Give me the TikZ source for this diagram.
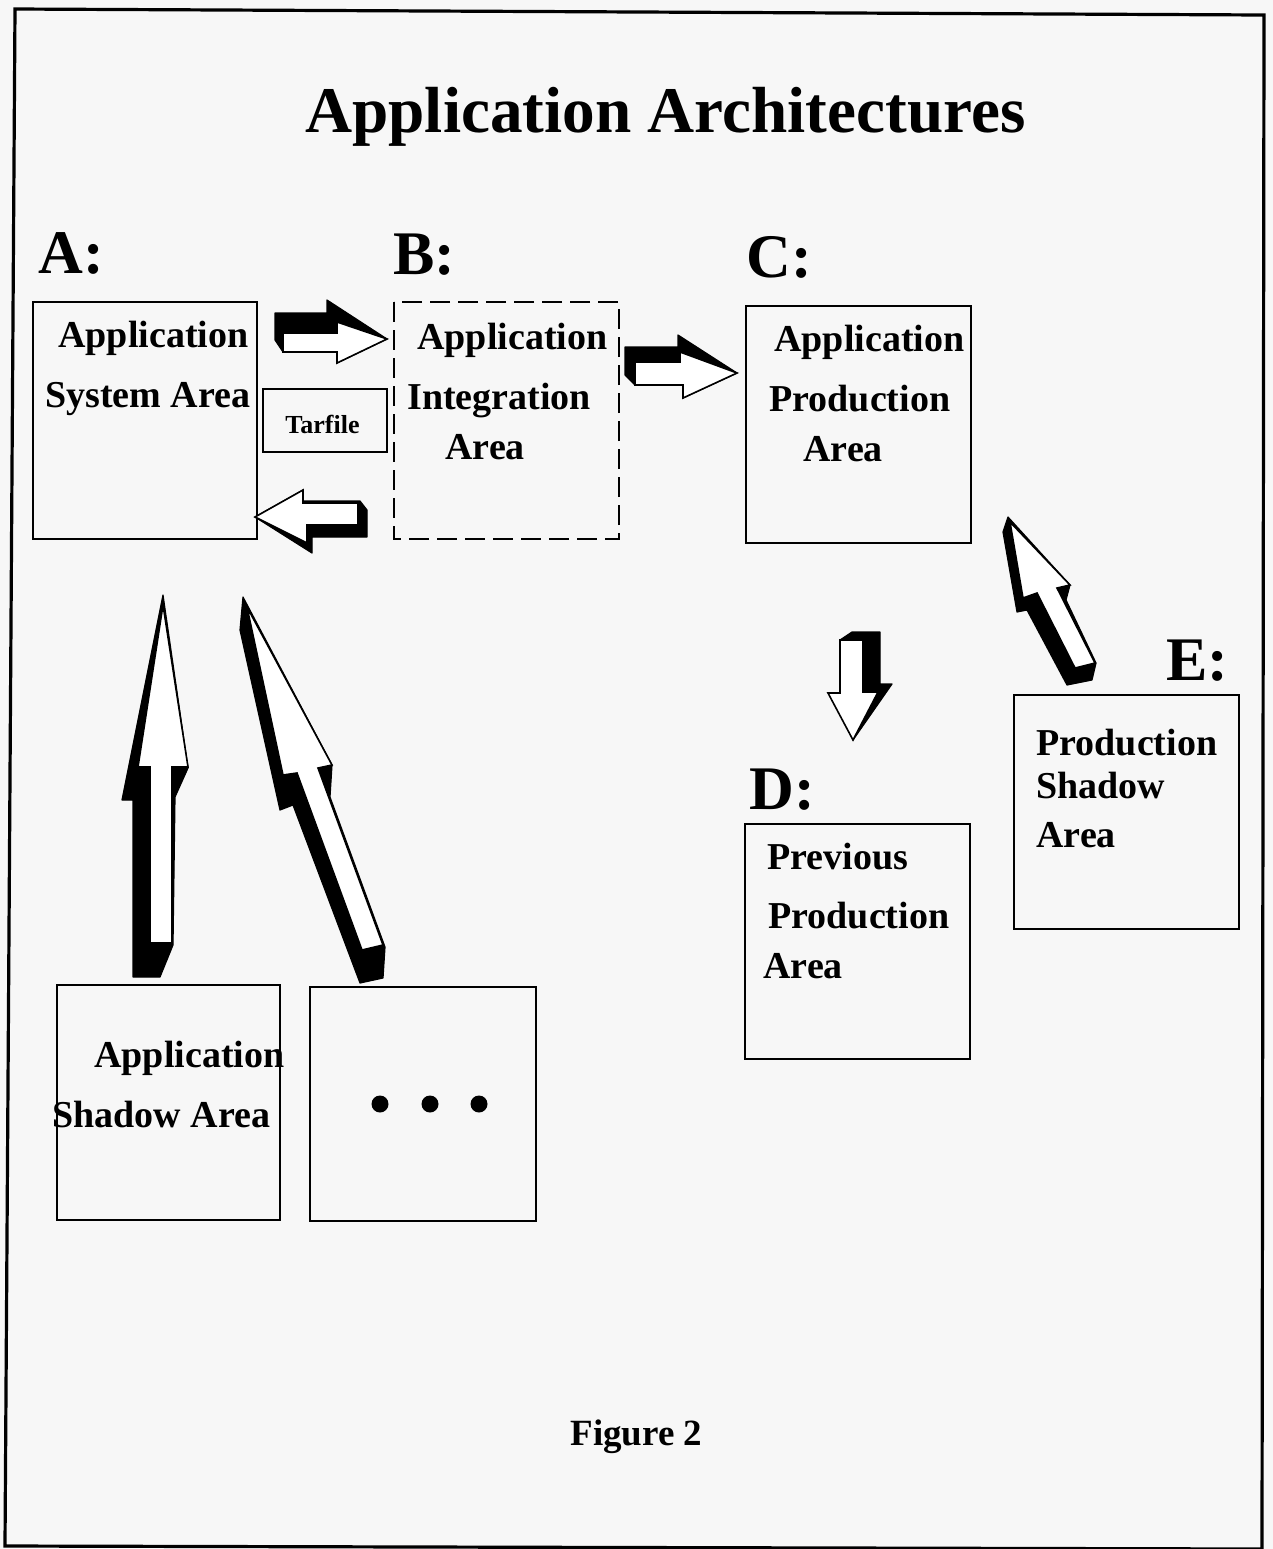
\documentclass[tikz,border=0pt]{standalone}
\usepackage{fontspec}
\setmainfont{Liberation Serif}
\definecolor{paper}{HTML}{F7F7F7}
\tikzset{
  boxframe/.style={draw=black, line width=1.2pt},
  boxtxt/.style={anchor=base west, inner sep=0pt, font=\fontsize{19}{22}\selectfont\bfseries},
  labtxt/.style={anchor=base west, inner sep=0pt, font=\fontsize{31}{36}\selectfont\bfseries},
  arrblack/.style={fill=black, draw=black, line width=0.6pt, line join=round},
  arrface/.style={fill=white, draw=black, line width=0.8pt, line join=miter},
}
\begin{document}
\begin{tikzpicture}[x=0.5pt,y=-0.5pt]
\useasboundingbox (0,0) rectangle (1273,1549);
\fill[paper] (0,0) rectangle (1273,1549);
% outer frame (slightly skewed like the scan)
\draw[line width=1.6pt] (15,9) -- (1264,15) -- (1262,1549) -- (5,1546) -- cycle;

% title
\node[anchor=base west, inner sep=0pt, font=\fontsize{32.6}{38}\selectfont\bfseries] (title) at (305,132) {Application Architectures};

% letters
\node[labtxt] (labA) at (38,273) {A:};
\node[labtxt] (labB) at (393,274) {B:};
\node[labtxt] (labC) at (746,277) {C:};
\node[labtxt] (labD) at (749,809) {D:};
\node[labtxt] (labE) at (1166,680) {E:};

% boxes
\draw[boxframe] (33,302) rectangle (257,539);
\draw[boxframe] (263,389) rectangle (387,452);
\draw[boxframe, dash pattern=on 10pt off 4pt] (394,302) rectangle (619,539);
\draw[boxframe] (746,306) rectangle (971,543);
\draw[boxframe] (745,824) rectangle (970,1059);
\draw[boxframe] (1014,695) rectangle (1239,929);
\draw[boxframe] (57,985) rectangle (280,1220);
\draw[boxframe] (310,987) rectangle (536,1221);

% box texts
\node[boxtxt] (a1) at (58,347) {Application};
\node[boxtxt] (a2) at (45,407) {System Area};
\node[anchor=base west, inner sep=0pt, font=\fontsize{13}{15}\selectfont\bfseries] (tar) at (285,433) {Tarfile};
\node[boxtxt] (b1) at (417,349) {Application};
\node[boxtxt] (b2) at (407,409) {Integration};
\node[boxtxt] (b3) at (445,459) {Area};
\node[boxtxt] (c1) at (774,351) {Application};
\node[boxtxt] (c2) at (769,411) {Production};
\node[boxtxt] (c3) at (803,461) {Area};
\node[boxtxt] (d1) at (767,869) {Previous};
\node[boxtxt] (d2) at (768,928) {Production};
\node[boxtxt] (d3) at (763,978) {Area};
\node[boxtxt] (e1) at (1036,755) {Production};
\node[boxtxt] (e2) at (1036,798) {Shadow};
\node[boxtxt] (e3) at (1036,847) {Area};
\node[boxtxt] (s1) at (94,1067) {Application};
\node[boxtxt] (s2) at (52,1127) {Shadow Area};
% right edge of shadow box drawn over the text as in the scan
\draw[boxframe] (280,985) -- (280,1220);

% dots
\foreach \xx/\nm in {380/dt1,430/dt2,479/dt3}
  \fill (\xx,1104) circle[radius=8.5] coordinate (\nm);

% figure caption
\node[anchor=base west, inner sep=0pt, font=\fontsize{18.5}{22}\selectfont\bfseries] (fig) at (570,1445) {Figure 2};

% ---- block arrows ----
% A -> B
\filldraw[arrblack] (275,313) -- (327,313) -- (327,300) -- (387,339) -- (337,363) -- (337,352) -- (283,352) -- (275,340) -- cycle;
\filldraw[arrface] (283,333) -- (337,333) -- (337,322) -- (387,339) -- (337,363) -- (337,352) -- (283,352) -- cycle;
% B -> A
\filldraw[arrblack] (255,517) -- (303,490) -- (303,501) -- (360,501) -- (367,510) -- (367,537) -- (312,537) -- (312,553) -- cycle;
\filldraw[arrface] (255,517) -- (303,490) -- (303,503) -- (358,503) -- (358,525) -- (307,525) -- (307,543) -- cycle;
% B -> C
\filldraw[arrblack] (625,347) -- (678,347) -- (678,335) -- (737,373) -- (683,398) -- (683,385) -- (635,385) -- (625,375) -- cycle;
\filldraw[arrface] (635,362) -- (680,362) -- (680,352) -- (737,373) -- (683,398) -- (683,385) -- (635,385) -- cycle;
% shadow -> A (vertical)
\filldraw[arrblack] (163,595) -- (188,768) -- (175,797) -- (173,945) -- (160,977) -- (133,977) -- (133,800) -- (122,800) -- cycle;
\filldraw[arrface] (163,605) -- (188,767) -- (172,767) -- (172,943) -- (150,943) -- (150,767) -- (138,767) -- cycle;
% dots -> A (diagonal)
\filldraw[arrblack] (243,597) -- (332,765) -- (330,797) -- (385,947) -- (383,978) -- (360,983) -- (293,805) -- (280,810) -- (240,630) -- cycle;
\filldraw[arrface] (247,607) -- (332,765) -- (318,768) -- (383,945) -- (362,950) -- (297,773) -- (283,775) -- cycle;
% C -> D (down)
\filldraw[arrblack] (840,640) -- (852,632) -- (880,632) -- (880,684) -- (892,684) -- (853,740) -- cycle;
\filldraw[arrface] (840,640) -- (863,640) -- (863,692) -- (878,692) -- (853,740) -- (828,693) -- (840,693) -- cycle;
% E -> C (diagonal)
\filldraw[arrblack] (1008,517) -- (1070,585) -- (1066,600) -- (1096,663) -- (1092,680) -- (1067,685) -- (1027,610) -- (1017,612) -- (1003,532) -- cycle;
\filldraw[arrface] (1010,522) -- (1070,585) -- (1057,588) -- (1095,663) -- (1075,668) -- (1037,593) -- (1023,598) -- cycle;
\end{tikzpicture}
\end{document}
